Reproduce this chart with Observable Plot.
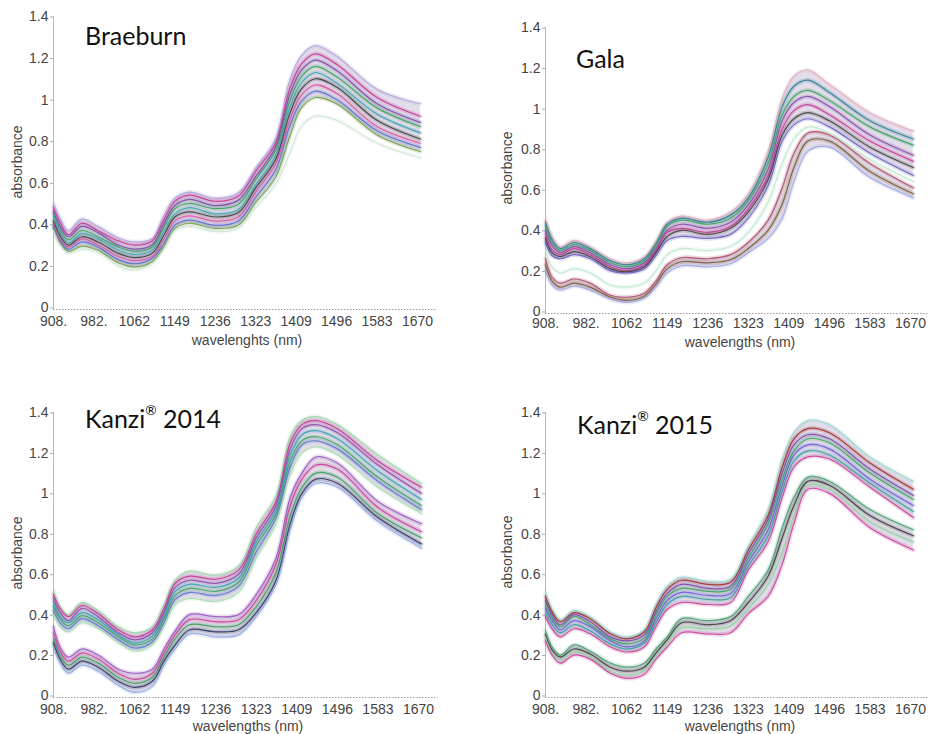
<!DOCTYPE html>
<html><head><meta charset="utf-8">
<script src="https://cdn.jsdelivr.net/npm/d3@7"></script>
<script src="https://cdn.jsdelivr.net/npm/@observablehq/plot@0.6"></script>
<style>
body{margin:0;background:#fff;}
#chart{position:relative;width:928px;height:734px;font-family:"Liberation Sans",Arial,sans-serif;overflow:hidden;}
.panel{position:absolute;}
.panel svg{overflow:visible;}
.title{position:absolute;font-family:Lato,"Open Sans",sans-serif;font-size:25px;line-height:1;color:#111;white-space:nowrap;}
.title sup{font-size:0.55em;position:relative;top:-0.2em;vertical-align:top;line-height:1;}
.lab{position:absolute;font-size:14px;color:#444;white-space:nowrap;line-height:1;transform:translate(-50%,-50%);}
.rot{transform:translate(-50%,-50%) rotate(-90deg);}
</style></head><body><div id="chart"></div>
<script>
// wavelengths (nm) at which the spectra were read
const wavelengths = [908, 920, 935, 960, 990, 1030, 1062, 1100, 1125, 1149, 1180, 1236, 1285, 1323, 1365, 1395, 1420, 1450, 1496, 1583, 1676];
const tickValues = [908, 982, 1062, 1149, 1236, 1323, 1409, 1496, 1583, 1670];
const tickLabels = ["908.", "982.", "1062", "1149", "1236", "1323", "1409", "1496", "1583", "1670"];
const yTicks = [0, 0.2, 0.4, 0.6, 0.8, 1, 1.2, 1.4];

const braeburn = [
  [0.51, 0.44, 0.38, 0.435, 0.40, 0.345, 0.325, 0.34, 0.45, 0.535, 0.565, 0.535, 0.56, 0.68, 0.82, 1.10, 1.22, 1.27, 1.22, 1.06, 0.99],
  [0.49, 0.42, 0.36, 0.415, 0.38, 0.33, 0.31, 0.33, 0.43, 0.52, 0.55, 0.52, 0.545, 0.665, 0.80, 1.06, 1.18, 1.23, 1.18, 1.02, 0.93],
  [0.47, 0.40, 0.35, 0.40, 0.37, 0.31, 0.29, 0.31, 0.41, 0.50, 0.53, 0.50, 0.525, 0.64, 0.78, 1.03, 1.15, 1.20, 1.15, 0.99, 0.90],
  [0.46, 0.385, 0.335, 0.38, 0.35, 0.30, 0.28, 0.30, 0.395, 0.485, 0.51, 0.485, 0.505, 0.625, 0.765, 1.00, 1.12, 1.17, 1.12, 0.97, 0.88],
  [0.44, 0.37, 0.32, 0.365, 0.34, 0.285, 0.265, 0.285, 0.375, 0.46, 0.49, 0.46, 0.48, 0.60, 0.74, 0.97, 1.09, 1.14, 1.09, 0.94, 0.85],
  [0.425, 0.355, 0.31, 0.35, 0.325, 0.27, 0.25, 0.27, 0.355, 0.445, 0.47, 0.445, 0.465, 0.585, 0.72, 0.94, 1.06, 1.11, 1.07, 0.91, 0.82],
  [0.41, 0.34, 0.30, 0.34, 0.31, 0.255, 0.235, 0.255, 0.335, 0.425, 0.45, 0.425, 0.445, 0.565, 0.70, 0.91, 1.03, 1.08, 1.04, 0.88, 0.80],
  [0.40, 0.33, 0.29, 0.325, 0.30, 0.24, 0.22, 0.245, 0.315, 0.405, 0.43, 0.405, 0.425, 0.54, 0.67, 0.88, 1.00, 1.05, 1.01, 0.86, 0.78],
  [0.39, 0.32, 0.28, 0.305, 0.285, 0.225, 0.205, 0.23, 0.30, 0.39, 0.415, 0.39, 0.405, 0.515, 0.635, 0.83, 0.97, 1.02, 0.99, 0.84, 0.76],
  [0.38, 0.31, 0.27, 0.29, 0.275, 0.21, 0.19, 0.22, 0.29, 0.38, 0.40, 0.375, 0.39, 0.49, 0.60, 0.75, 0.88, 0.93, 0.91, 0.80, 0.73]
];
const gala = [
  [0.47, 0.38, 0.33, 0.36, 0.33, 0.27, 0.25, 0.28, 0.355, 0.45, 0.48, 0.46, 0.50, 0.59, 0.80, 1.06, 1.17, 1.20, 1.13, 0.99, 0.90],
  [0.45, 0.365, 0.32, 0.35, 0.32, 0.26, 0.24, 0.27, 0.345, 0.44, 0.47, 0.45, 0.485, 0.57, 0.77, 1.02, 1.12, 1.15, 1.09, 0.95, 0.86],
  [0.43, 0.35, 0.31, 0.34, 0.31, 0.25, 0.23, 0.26, 0.335, 0.43, 0.46, 0.44, 0.47, 0.555, 0.74, 0.98, 1.07, 1.10, 1.05, 0.92, 0.83],
  [0.41, 0.335, 0.30, 0.33, 0.30, 0.24, 0.22, 0.25, 0.32, 0.41, 0.44, 0.42, 0.45, 0.535, 0.71, 0.95, 1.04, 1.07, 1.02, 0.88, 0.78],
  [0.39, 0.315, 0.29, 0.32, 0.29, 0.23, 0.21, 0.24, 0.31, 0.40, 0.42, 0.40, 0.43, 0.515, 0.68, 0.91, 1.00, 1.03, 0.98, 0.85, 0.75],
  [0.37, 0.30, 0.28, 0.305, 0.28, 0.22, 0.205, 0.23, 0.30, 0.38, 0.41, 0.39, 0.42, 0.50, 0.66, 0.88, 0.96, 0.99, 0.95, 0.82, 0.72],
  [0.35, 0.285, 0.27, 0.29, 0.27, 0.21, 0.20, 0.22, 0.285, 0.36, 0.38, 0.37, 0.39, 0.47, 0.63, 0.85, 0.93, 0.96, 0.92, 0.79, 0.68],
  [0.31, 0.23, 0.20, 0.22, 0.20, 0.14, 0.13, 0.15, 0.21, 0.29, 0.32, 0.31, 0.33, 0.40, 0.55, 0.74, 0.86, 0.92, 0.89, 0.76, 0.65],
  [0.27, 0.18, 0.15, 0.17, 0.15, 0.09, 0.08, 0.10, 0.16, 0.24, 0.275, 0.27, 0.29, 0.35, 0.46, 0.62, 0.79, 0.89, 0.88, 0.74, 0.62],
  [0.24, 0.16, 0.13, 0.15, 0.13, 0.08, 0.065, 0.085, 0.145, 0.22, 0.255, 0.25, 0.265, 0.32, 0.41, 0.54, 0.72, 0.85, 0.85, 0.70, 0.59],
  [0.21, 0.14, 0.115, 0.135, 0.115, 0.07, 0.055, 0.075, 0.13, 0.20, 0.235, 0.23, 0.245, 0.30, 0.37, 0.47, 0.65, 0.80, 0.82, 0.67, 0.57]
];
const kanzi2014 = [
  [0.53, 0.45, 0.41, 0.47, 0.43, 0.35, 0.32, 0.35, 0.46, 0.58, 0.625, 0.605, 0.65, 0.84, 1.00, 1.29, 1.37, 1.39, 1.35, 1.20, 1.06],
  [0.51, 0.44, 0.40, 0.455, 0.415, 0.335, 0.30, 0.335, 0.44, 0.565, 0.60, 0.585, 0.63, 0.81, 0.97, 1.26, 1.35, 1.37, 1.33, 1.17, 1.04],
  [0.49, 0.42, 0.38, 0.44, 0.40, 0.32, 0.285, 0.32, 0.42, 0.545, 0.58, 0.565, 0.61, 0.79, 0.95, 1.23, 1.33, 1.35, 1.31, 1.15, 1.01],
  [0.47, 0.40, 0.37, 0.42, 0.385, 0.31, 0.27, 0.305, 0.405, 0.525, 0.56, 0.545, 0.59, 0.77, 0.93, 1.20, 1.30, 1.32, 1.28, 1.12, 0.98],
  [0.45, 0.39, 0.355, 0.405, 0.37, 0.30, 0.26, 0.29, 0.39, 0.505, 0.54, 0.525, 0.57, 0.75, 0.91, 1.17, 1.27, 1.29, 1.25, 1.09, 0.95],
  [0.43, 0.37, 0.34, 0.39, 0.355, 0.285, 0.245, 0.275, 0.37, 0.485, 0.52, 0.505, 0.55, 0.72, 0.89, 1.14, 1.25, 1.27, 1.23, 1.07, 0.93],
  [0.41, 0.35, 0.325, 0.37, 0.34, 0.27, 0.23, 0.26, 0.35, 0.46, 0.49, 0.475, 0.52, 0.69, 0.86, 1.10, 1.21, 1.24, 1.20, 1.04, 0.91],
  [0.35, 0.25, 0.20, 0.24, 0.21, 0.14, 0.12, 0.14, 0.24, 0.33, 0.41, 0.40, 0.41, 0.51, 0.69, 0.99, 1.11, 1.19, 1.16, 0.97, 0.86],
  [0.32, 0.23, 0.18, 0.22, 0.19, 0.12, 0.09, 0.12, 0.22, 0.31, 0.385, 0.375, 0.385, 0.48, 0.66, 0.95, 1.08, 1.15, 1.13, 0.94, 0.82],
  [0.29, 0.21, 0.16, 0.20, 0.17, 0.10, 0.07, 0.10, 0.20, 0.29, 0.36, 0.35, 0.36, 0.45, 0.62, 0.90, 1.04, 1.11, 1.09, 0.91, 0.79],
  [0.27, 0.19, 0.14, 0.18, 0.15, 0.08, 0.05, 0.08, 0.18, 0.26, 0.335, 0.325, 0.335, 0.42, 0.58, 0.86, 1.01, 1.08, 1.06, 0.89, 0.76],
  [0.25, 0.17, 0.12, 0.16, 0.13, 0.06, 0.025, 0.055, 0.16, 0.24, 0.315, 0.30, 0.31, 0.40, 0.56, 0.83, 0.99, 1.06, 1.04, 0.87, 0.74]
];
const kanzi2015 = [
  [0.52, 0.44, 0.385, 0.43, 0.40, 0.325, 0.30, 0.335, 0.46, 0.55, 0.595, 0.575, 0.585, 0.75, 0.93, 1.18, 1.31, 1.37, 1.35, 1.19, 1.07],
  [0.50, 0.425, 0.375, 0.42, 0.39, 0.315, 0.29, 0.325, 0.445, 0.535, 0.58, 0.56, 0.57, 0.73, 0.90, 1.14, 1.28, 1.33, 1.31, 1.16, 1.03],
  [0.48, 0.41, 0.36, 0.41, 0.375, 0.30, 0.28, 0.31, 0.425, 0.515, 0.56, 0.54, 0.55, 0.71, 0.88, 1.11, 1.25, 1.30, 1.28, 1.13, 1.00],
  [0.46, 0.395, 0.35, 0.40, 0.36, 0.29, 0.265, 0.295, 0.41, 0.50, 0.54, 0.525, 0.535, 0.69, 0.86, 1.08, 1.22, 1.28, 1.26, 1.11, 0.98],
  [0.44, 0.38, 0.335, 0.38, 0.35, 0.28, 0.25, 0.28, 0.39, 0.48, 0.52, 0.505, 0.515, 0.67, 0.83, 1.05, 1.20, 1.25, 1.23, 1.08, 0.95],
  [0.42, 0.36, 0.32, 0.36, 0.33, 0.265, 0.24, 0.27, 0.37, 0.46, 0.50, 0.485, 0.495, 0.65, 0.80, 1.02, 1.17, 1.22, 1.20, 1.06, 0.92],
  [0.40, 0.34, 0.30, 0.34, 0.315, 0.25, 0.225, 0.25, 0.35, 0.435, 0.47, 0.46, 0.47, 0.63, 0.77, 0.99, 1.14, 1.19, 1.18, 1.04, 0.89],
  [0.33, 0.25, 0.21, 0.26, 0.23, 0.17, 0.15, 0.17, 0.24, 0.30, 0.39, 0.38, 0.40, 0.50, 0.63, 0.84, 0.99, 1.09, 1.07, 0.93, 0.83],
  [0.31, 0.235, 0.20, 0.24, 0.215, 0.15, 0.13, 0.15, 0.22, 0.285, 0.37, 0.36, 0.38, 0.47, 0.60, 0.79, 0.95, 1.07, 1.05, 0.90, 0.80],
  [0.30, 0.22, 0.185, 0.225, 0.20, 0.13, 0.11, 0.135, 0.205, 0.27, 0.345, 0.34, 0.355, 0.44, 0.56, 0.72, 0.90, 1.05, 1.03, 0.87, 0.77],
  [0.28, 0.21, 0.17, 0.21, 0.19, 0.12, 0.095, 0.115, 0.19, 0.25, 0.32, 0.315, 0.32, 0.415, 0.50, 0.66, 0.86, 1.03, 1.01, 0.84, 0.73]
];
// which spectra bound each dense bundle (top index, bottom index)
const braeburnBundles = [[0, 8]];
const galaBundles = [[0, 6], [8, 10]];
const kanzi2014Bundles = [[0, 6], [7, 11]];
const kanzi2015Bundles = [[0, 6], [7, 10]];

// line colours (styles, kept apart from the data)
const braeburnColors = ["#b3a6dc", "#c23a94", "#7a4aa6", "#3fa065", "#45a3b0", "#3d3d3d", "#d4589f", "#5a6ec8", "#6e9a4d", "#cfe6d5"];
const galaColors = ["#e2b0c0", "#2f7f8f", "#3fa065", "#8a4aa8", "#c23a94", "#404040", "#6a5fc0", "#bfe8cf", "#b0506a", "#7a5a3a", "#9fa6e0"];
const kanzi2014Colors = ["#9fd6a8", "#c23a94", "#8a4aa8", "#3ba0b0", "#3fa065", "#5a78c8", "#a8dcb0", "#9a5ac0", "#c8409a", "#3f9a60", "#2a3560", "#8fa8e0"];
const kanzi2015Colors = ["#9fd8d0", "#9a3030", "#7a4aa6", "#3fa065", "#6a5fd0", "#3a9aa0", "#c04095", "#4aa070", "#3a3a3a", "#8fcf9f", "#c8409a"];

const chart = document.getElementById("chart");

function makePanel(spectra, bundles, colors, o) {
  const marks = [
    Plot.ruleY([0], {x1: 908, x2: 1712, stroke: "#9a9a9a", strokeDasharray: "1.5,1.5"}),
    Plot.ruleX([908], {y1: 0, y2: 1.41, stroke: "#b8b8b8"})
  ];
  bundles.forEach(([a, b]) => {
    const rows = wavelengths.map((w, j) => ({w, hi: spectra[a][j], lo: spectra[b][j]}));
    marks.push(Plot.areaY(rows, {x: "w", y1: "lo", y2: "hi", fill: "#9c86b4", fillOpacity: 0.28, curve: "catmull-rom"}));
  });
  spectra.forEach((vals, k) => {
    const rows = vals.map((v, j) => ({w: wavelengths[j], v}));
    marks.push(Plot.line(rows, {x: "w", y: "v", stroke: colors[k], strokeWidth: 4.5, strokeOpacity: 0.2, curve: "catmull-rom"}));
  });
  spectra.forEach((vals, k) => {
    const rows = vals.map((v, j) => ({w: wavelengths[j], v}));
    marks.push(Plot.line(rows, {x: "w", y: "v", stroke: colors[k], strokeWidth: 1.2, strokeOpacity: 0.9, curve: "catmull-rom"}));
  });
  marks.push(Plot.axisX({ticks: tickValues, tickFormat: d => tickLabels[tickValues.indexOf(d)], tickSize: 0, tickPadding: o.padX, fill: "#444", label: null}));
  marks.push(Plot.axisY({ticks: yTicks, tickFormat: d => String(d), tickSize: 3, tickPadding: 2, stroke: "#aaa", fill: "#444", dy: -1.5, label: null}));
  const svg = Plot.plot({
    width: o.width, height: o.height,
    marginLeft: o.ml, marginRight: o.mr, marginTop: o.mt, marginBottom: o.mb,
    x: {type: "linear", domain: tickValues},
    y: {type: "linear", domain: [0, 1.4]},
    style: {fontSize: "14px", fontFamily: "'Liberation Sans', Arial, sans-serif", background: "transparent"},
    marks
  });
  const div = document.createElement("div");
  div.className = "panel";
  div.style.left = o.left + "px";
  div.style.top = o.top + "px";
  div.appendChild(svg);
  chart.appendChild(div);
}

function label(text, x, y, rot) {
  const d = document.createElement("div");
  d.className = "lab" + (rot ? " rot" : "");
  d.textContent = text;
  d.style.left = x + "px";
  d.style.top = y + "px";
  chart.appendChild(d);
}
function title(html, x, y) {
  const d = document.createElement("div");
  d.className = "title";
  d.innerHTML = html;
  d.style.left = x + "px";
  d.style.top = y + "px";
  chart.appendChild(d);
}

makePanel(braeburn, braeburnBundles, braeburnColors, {left: 0, top: 0, width: 460, height: 350, ml: 53, mr: 43, mt: 18, mb: 41, padX: 7});
makePanel(gala, galaBundles, galaColors, {left: 460, top: 0, width: 468, height: 350, ml: 85, mr: 18, mt: 29, mb: 37, padX: 5});
makePanel(kanzi2014, kanzi2014Bundles, kanzi2014Colors, {left: 0, top: 370, width: 460, height: 364, ml: 53, mr: 42, mt: 44, mb: 37, padX: 7});
makePanel(kanzi2015, kanzi2015Bundles, kanzi2015Colors, {left: 460, top: 370, width: 468, height: 364, ml: 85, mr: 18, mt: 44, mb: 37, padX: 7});

label("absorbance", 17, 162, true);
label("absorbance", 507, 168, true);
label("absorbance", 17, 553, true);
label("absorbance", 507, 552, true);
label("wavelenghts (nm)", 247, 340);
label("wavelengths (nm)", 740, 342);
label("wavelengths (nm)", 248, 726);
label("wavelengths (nm)", 740, 726);

title("Braeburn", 85, 23);
title("Gala", 576, 46);
title("Kanzi<sup>®</sup> 2014", 85, 406);
title("Kanzi<sup>®</sup> 2015", 577, 412);
</script></body></html>
